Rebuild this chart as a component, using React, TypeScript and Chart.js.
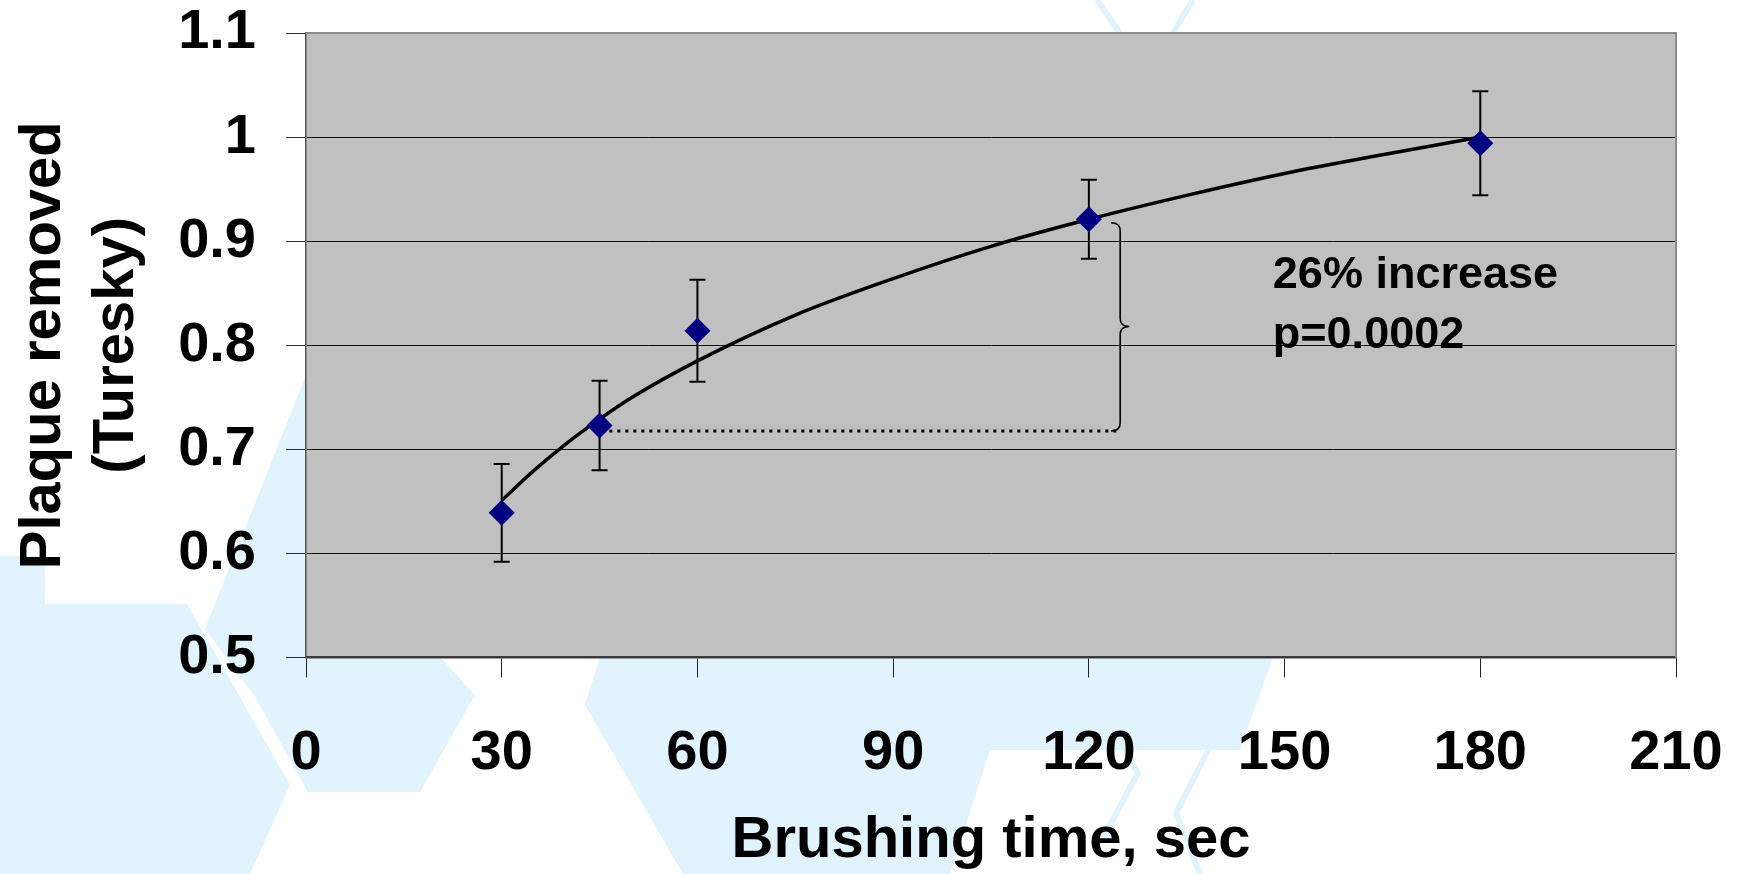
import React, { useEffect, useRef } from "react";
import { Chart, registerables } from "chart.js";

Chart.register(...registerables);

// ---- data ----
const times = [30, 45, 60, 120, 180];
const plaque = [0.639, 0.723, 0.814, 0.921, 0.994];
const errors = [0.047, 0.043, 0.049, 0.038, 0.05];

// trend line readings
const fitTimes = [30, 35, 40, 45, 50, 60, 75, 90, 105, 120, 135, 150, 165, 180];
const fitValues = [0.651, 0.68, 0.706, 0.729, 0.75, 0.785, 0.829, 0.864, 0.895, 0.921, 0.944, 0.965, 0.983, 1.0];

// annotation (baseline line, brace)
const baselineLevel = 0.7177;
const baselineFrom = 46.5;
const baselineTo = 124.8;
const braceTop = 0.9177;
const braceBottom = 0.7177;
const braceMid = 0.818;
const braceX = 124.8;
const braceTipX = 126.2;
const braceCurlX = 123.4;

const noteLines = ["26% increase", "p=0.0002"];
const noteX = 148.2;
const noteYs = [0.855, 0.797];

const xTicks = [0, 30, 60, 90, 120, 150, 180, 210];
const yTickMin = 0.5;
const yTickMax = 1.1;
const xTitle = "Brushing time, sec";
const yTitle = ["Plaque removed", "(Turesky)"];

const FONT = "'Liberation Sans', Arial, Helvetica, sans-serif";

// light background decoration (page artwork), in page pixels
const decoShapes: number[][][] = [
  [[0, 556], [45, 556], [45, 604], [187, 604], [290, 785], [250, 874], [0, 874]],
  [[306, 375], [306, 657], [254, 695], [205, 629]],
  [[254, 695], [308, 792], [420, 792], [475, 695], [440, 657], [306, 657]],
  [[600, 657], [1273, 657], [1240, 750], [990, 750], [950, 874], [683, 874], [585, 705]],
];
const decoOutlines: number[][][] = [
  [[1097, 0], [1120, 33]],
  [[1193, 0], [1173, 33]],
  [[1023, 707], [1102, 707], [1138, 773], [1102, 840]],
  [[1212, 743], [1176, 813], [1200, 874]],
];

const W = 1743;
const H = 874;

export default function App() {
  const ref = useRef<HTMLCanvasElement | null>(null);

  useEffect(() => {
    const canvas = ref.current;
    if (!canvas) return;

    const bgPlugin = {
      id: "bg",
      beforeDraw(chart: any) {
        const { ctx, chartArea } = chart;
        ctx.save();
        ctx.fillStyle = "#ffffff";
        ctx.fillRect(0, 0, chart.width, chart.height);
        ctx.fillStyle = "#e1f3fc";
        decoShapes.forEach((poly) => {
          ctx.beginPath();
          poly.forEach(([px, py], i) => (i ? ctx.lineTo(px, py) : ctx.moveTo(px, py)));
          ctx.closePath();
          ctx.fill();
        });
        ctx.strokeStyle = "#e1f3fc";
        ctx.lineWidth = 6;
        decoOutlines.forEach((pl) => {
          ctx.beginPath();
          pl.forEach(([px, py], i) => (i ? ctx.lineTo(px, py) : ctx.moveTo(px, py)));
          ctx.stroke();
        });
        ctx.fillStyle = "#c0c0c0";
        ctx.fillRect(chartArea.left, chartArea.top, chartArea.right - chartArea.left, chartArea.bottom - chartArea.top);
        ctx.restore();
      },
    };

    const overlayPlugin = {
      id: "overlay",
      beforeDatasetsDraw(chart: any) {
        const { ctx, scales } = chart;
        const xs = scales.x;
        const ys = scales.y;
        ctx.save();
        ctx.strokeStyle = "#000000";
        ctx.lineWidth = 2;
        times.forEach((t, i) => {
          const px = xs.getPixelForValue(t);
          const top = ys.getPixelForValue(plaque[i] + errors[i]);
          const bot = ys.getPixelForValue(plaque[i] - errors[i]);
          ctx.beginPath();
          ctx.moveTo(px, top);
          ctx.lineTo(px, bot);
          ctx.moveTo(px - 8, top);
          ctx.lineTo(px + 8, top);
          ctx.moveTo(px - 8, bot);
          ctx.lineTo(px + 8, bot);
          ctx.stroke();
        });
        ctx.restore();
      },
      afterDatasetsDraw(chart: any) {
        const { ctx, scales } = chart;
        const xs = scales.x;
        const ys = scales.y;
        ctx.save();
        // brace
        const x0 = xs.getPixelForValue(braceCurlX);
        const x1 = xs.getPixelForValue(braceX);
        const x2 = xs.getPixelForValue(braceTipX);
        const yT = ys.getPixelForValue(braceTop);
        const yB = ys.getPixelForValue(braceBottom);
        const yM = ys.getPixelForValue(braceMid);
        const r = 8;
        ctx.strokeStyle = "#000000";
        ctx.lineWidth = 1.6;
        ctx.beginPath();
        ctx.moveTo(x0, yT);
        ctx.quadraticCurveTo(x1, yT, x1, yT + r);
        ctx.lineTo(x1, yM - r);
        ctx.quadraticCurveTo(x1, yM, x2, yM);
        ctx.quadraticCurveTo(x1, yM, x1, yM + r);
        ctx.lineTo(x1, yB - r);
        ctx.quadraticCurveTo(x1, yB, x0, yB);
        ctx.stroke();
        // note text
        ctx.fillStyle = "#000000";
        ctx.font = `bold 45px ${FONT}`;
        ctx.textAlign = "left";
        ctx.textBaseline = "alphabetic";
        noteLines.forEach((line, i) => {
          ctx.fillText(line, xs.getPixelForValue(noteX), ys.getPixelForValue(noteYs[i]));
        });
        // plot frame (top / right)
        const ca = chart.chartArea;
        ctx.strokeStyle = "#8a8a8a";
        ctx.lineWidth = 2;
        ctx.beginPath();
        ctx.moveTo(ca.left, ca.top);
        ctx.lineTo(ca.right, ca.top);
        ctx.lineTo(ca.right, ca.bottom);
        ctx.stroke();
        ctx.restore();
      },
    };

    const chart = new Chart(canvas, {
      type: "scatter",
      data: {
        datasets: [
          {
            label: "Plaque removed",
            data: times.map((t, i) => ({ x: t, y: plaque[i] })),
            pointStyle: "rectRot",
            pointRadius: 13,
            pointHoverRadius: 13,
            backgroundColor: "#000080",
            borderColor: "#000080",
            borderWidth: 0,
            showLine: false,
            order: 0,
          },
          {
            label: "Trend",
            type: "line",
            data: fitTimes.map((t, i) => ({ x: t, y: fitValues[i] })),
            borderColor: "#000000",
            borderWidth: 3.5,
            pointRadius: 0,
            cubicInterpolationMode: "monotone",
            fill: false,
            order: 1,
          },
          {
            label: "Baseline",
            type: "line",
            data: [
              { x: baselineFrom, y: baselineLevel },
              { x: baselineTo, y: baselineLevel },
            ],
            borderColor: "#000000",
            borderWidth: 3,
            borderDash: [3, 5],
            pointRadius: 0,
            fill: false,
            order: 2,
          },
        ],
      },
      options: {
        responsive: false,
        maintainAspectRatio: false,
        animation: false,
        events: [],
        layout: { padding: { left: 0, top: 33, right: 67, bottom: 0 } },
        plugins: {
          legend: { display: false },
          tooltip: { enabled: false },
        },
        scales: {
          x: {
            type: "linear",
            min: xTicks[0],
            max: xTicks[xTicks.length - 1],
            afterBuildTicks(scale: any) {
              scale.ticks = xTicks.map((v) => ({ value: v }));
            },
            afterFit(scale: any) {
              scale.height = H - 657.5;
              scale.paddingLeft = 0;
              scale.paddingRight = 0;
            },
            ticks: {
              color: "#000000",
              font: { family: FONT, size: 56, weight: "bold", lineHeight: 1 },
              padding: 48,
              maxRotation: 0,
              autoSkip: false,
            },
            grid: {
              drawOnChartArea: false,
              drawTicks: true,
              tickLength: 20,
              tickColor: "#222222",
              tickWidth: 1,
            },
            border: { display: true, color: "#3c3c3c", width: 2.5 },
            title: {
              display: true,
              text: xTitle,
              color: "#000000",
              font: { family: FONT, size: 58, weight: "bold", lineHeight: 1.1 },
              padding: { top: 0, bottom: 1 },
            },
          },
          y: {
            type: "linear",
            min: yTickMin,
            max: yTickMax,
            afterFit(scale: any) {
              scale.width = 306;
              scale.paddingTop = 0;
              scale.paddingBottom = 0;
            },
            ticks: {
              stepSize: 0.1,
              color: "#000000",
              font: { family: FONT, size: 56, weight: "bold", lineHeight: 1 },
              padding: 30,
              callback: (v: any) => String(Math.round(Number(v) * 10) / 10),
            },
            grid: {
              drawOnChartArea: true,
              drawTicks: true,
              tickLength: 20,
              color: (c: any) => (c.tick && Math.abs(c.tick.value - yTickMax) < 1e-6 ? "#8a8a8a" : "#111111"),
              tickColor: "#333333",
              lineWidth: 1,
            },
            border: { display: true, color: "#555555", width: 1.5 },
            title: {
              display: true,
              text: yTitle,
              color: "#000000",
              font: { family: FONT, size: 58, weight: "bold", lineHeight: 1.26 },
              padding: { top: 7, bottom: 0 },
            },
          },
        },
      },
      plugins: [bgPlugin, overlayPlugin],
    } as any);

    return () => chart.destroy();
  }, []);

  return (
    <div style={{ position: "absolute", left: 0, top: 0, width: W, height: H, background: "#ffffff" }}>
      <canvas ref={ref} width={W} height={H} style={{ display: "block", width: W, height: H }} />
    </div>
  );
}
